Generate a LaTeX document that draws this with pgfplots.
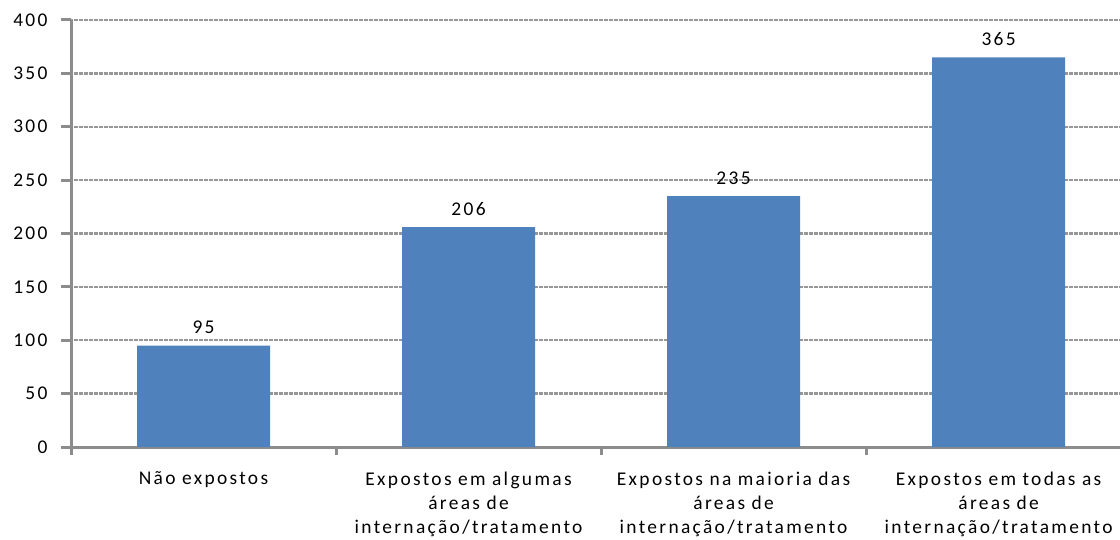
\documentclass[border=0pt]{standalone}
\usepackage{fontspec}
\setmainfont{Carlito}[LetterSpace=12]
\usepackage{pgfplots}
\pgfplotsset{compat=1.18}
\definecolor{barblue}{HTML}{4F81BD}
\definecolor{axgray}{HTML}{8C8C8C}
\definecolor{gridgray}{HTML}{979797}
\begin{document}
\begin{tikzpicture}
\begin{axis}[
  scale only axis,
  width=1049bp, height=427bp,
  xmin=-0.5, xmax=3.458,
  ymin=0, ymax=400,
  ytick={0,50,...,400},
  xtick={0,1,2,3},
  xticklabels={{N\~ao expostos},{Expostos em algumas\\\'areas de\\interna\c{c}\~ao/tratamento},{Expostos na maioria das\\\'areas de\\interna\c{c}\~ao/tratamento},{Expostos em todas as\\\'areas de\\interna\c{c}\~ao/tratamento}},
  minor xtick={-0.5,0.5,1.5,2.5},
  major x tick style={draw=none},
  axis x line*=bottom, axis y line*=left,
  axis line style={draw=axgray, line width=3bp, -},
  tick align=outside,
  major tick length=10bp, minor tick length=8bp,
  every tick/.style={draw=axgray, line width=3bp},
  ymajorgrids,
  grid style={draw=gridgray, line width=2.4bp, dash pattern=on 1bp off 0.25bp},
  /pgf/number format/assume math mode=true,
  tick label style={font=\fontsize{19.5}{22}\selectfont, text=black},
  yticklabel style={xshift=-10bp},
  xticklabel style={align=center, text width=280bp, yshift=-11bp, font=\fontsize{19.5}{24.5}\selectfont},
  ybar, bar width=133bp,
  nodes near coords,
  nodes near coords style={font=\fontsize{19.5}{22}\selectfont, text=black, yshift=8bp},
  clip=false,
]
\addplot[fill=barblue, draw=none] coordinates {(0,95) (1,206) (2,235) (3,365)};
\coordinate (O) at (rel axis cs:0,0);
\coordinate (T) at (rel axis cs:1,1);
\end{axis}
\pgfresetboundingbox
\path ([shift={(-71bp,-92bp)}]O) rectangle ([yshift=20bp]T);
\end{tikzpicture}
\end{document}
